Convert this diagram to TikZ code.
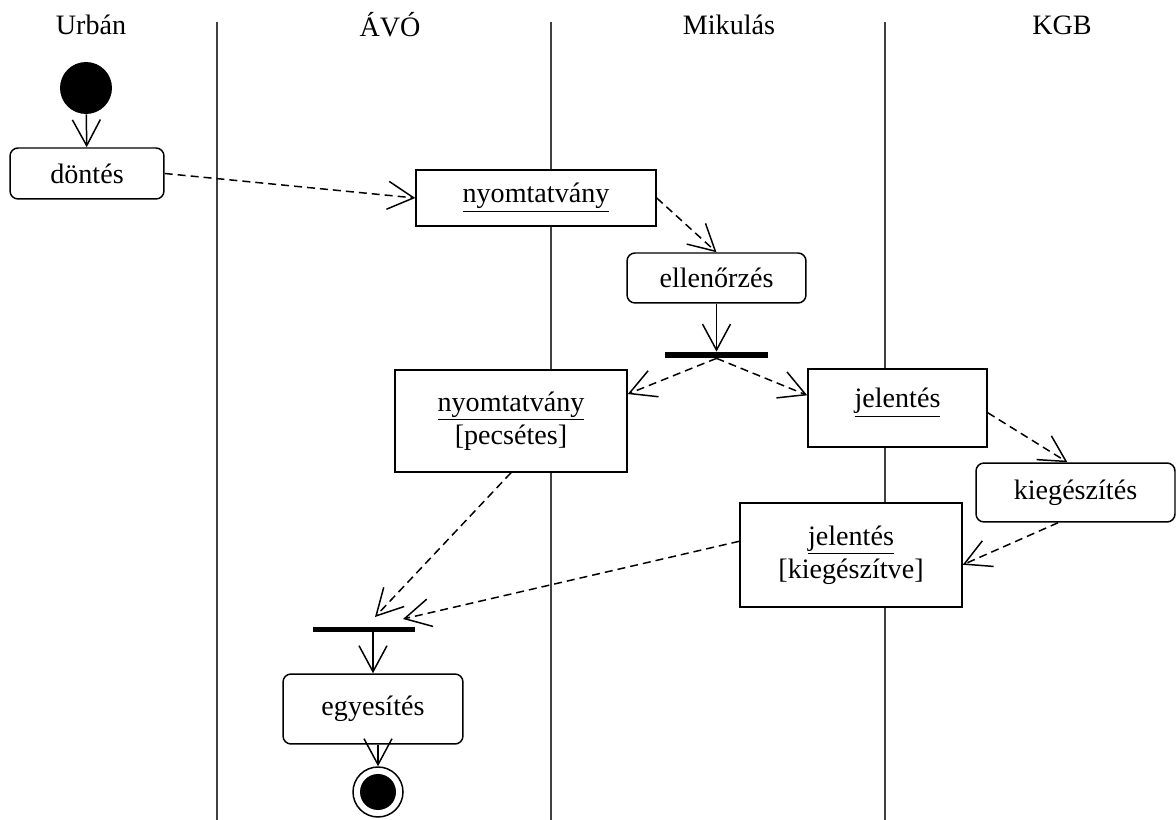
\documentclass[tikz,border=0pt]{standalone}
\usepackage{fontspec}
\setmainfont{Liberation Serif}
\usepackage{tikz}
\usetikzlibrary{arrows.meta}

\begin{document}
\begin{tikzpicture}[x=0.02cm,y=-0.02cm,
	every node/.style={font=\fontsize{16}{19}\selectfont},
	act/.style={draw,fill=white,rounded corners=0.16cm,line width=0.85pt},
	obj/.style={draw,fill=white,line width=0.85pt,align=center},
	bar/.style={fill=black,inner sep=0pt,minimum height=0.12cm},
	lane/.style={draw=black!75,line width=1pt},
	flow/.style={line width=0.85pt,-{Straight Barb[length=0.52cm,width=0.56cm]}},
	data/.style={flow,dash pattern=on 0.16cm off 0.1cm}]

		\useasboundingbox (0,0) rectangle (1176,820);

		%lanes
		\draw[lane] (217,22) -- (217,820);
		\draw[lane] (551,22) -- (551,820);
		\draw[lane] (885,22) -- (885,820);

		%headers
		\node (hurban) at (91,25) {Urbán};
		\node (havo) at (390,25) {ÁVÓ};
		\node (hmik) at (729,25) {Mikulás};
		\node (hkgb) at (1062,25) {KGB};

		%nodes
		\node[circle,fill=black,minimum size=1.04cm,inner sep=0pt] (start) at (86,88) {};
		\node[act,minimum width=3.08cm,minimum height=1.02cm] (dontes) at (87,173.5) {döntés};
		\node[obj,minimum width=4.8cm,minimum height=1.12cm] (nyom1) at (536,198) {\underline{nyomtatvány}};
		\node[act,minimum width=3.58cm,minimum height=1cm] (ellen) at (716.5,278) {ellenőrzés};
		\node[bar,minimum width=2.06cm] (fork) at (716.5,355) {};
		\node[obj,minimum width=4.64cm,minimum height=2.04cm] (nyom2) at (511,421) {\underline{nyomtatvány}\\{[pecsétes]}};
		\node[obj,minimum width=3.58cm,minimum height=1.56cm,text height=0.4cm,text depth=0.42cm] (jel1) at (897.5,408) {\underline{jelentés}};
		\node[act,minimum width=3.98cm,minimum height=1.18cm] (kieg) at (1075.5,492.5) {kiegészítés};
		\node[obj,minimum width=4.44cm,minimum height=2.08cm] (jel2) at (851,555) {\underline{jelentés}\\{[kiegészítve]}};
		\node[bar,minimum width=2.04cm,minimum height=0.1cm] (join) at (364,629) {};
		\node[act,minimum width=3.6cm,minimum height=1.4cm] (egyes) at (373,709) {egyesítés};
		\node[circle,draw,line width=0.85pt,minimum size=1cm,inner sep=0pt,
			path picture={\fill (path picture bounding box.center) circle (0.36cm);}] (stop) at (378,792) {};

		%join inputs
		\coordinate (joinl) at (375,617);
		\coordinate (joinr) at (403,619);

		%edges
		\draw[flow] (start) -- (dontes);
		\draw[data] (dontes.east) -- (nyom1.west);
		\draw[data] (nyom1.east) -- (ellen.north);
		\draw[flow] (ellen) -- (fork);
		\draw[data] (fork.south) -- (nyom2.13);
		\draw[data] (fork.south) -- (jel1.172);
		\draw[data] (jel1.-3) -- (kieg.105);
		\draw[data] (kieg.240) -- (jel2.-5);
		\draw[data] (nyom2.south) -- (joinl);
		\draw[data] (jel2.173) -- (joinr);
		\draw[flow] (join.south -| egyes.north) -- (egyes.north);
		\draw[flow] (egyes.south -| stop.north) -- (stop.north);

		\end{tikzpicture}
\end{document}
